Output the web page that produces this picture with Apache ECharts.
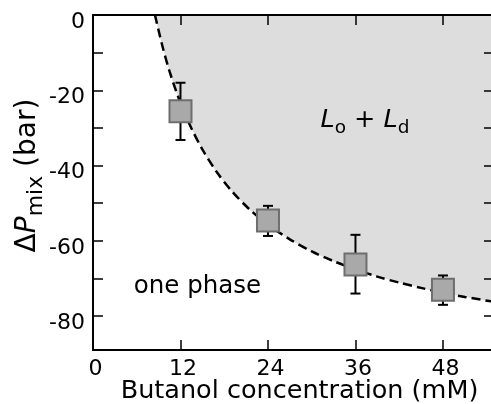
<!DOCTYPE html>
<html>
<head>
<meta charset="utf-8">
<style>html,body{margin:0;padding:0;background:#fff}#chart{width:491px;height:404px}</style>
<script src="https://cdn.jsdelivr.net/npm/echarts@6/dist/echarts.min.js"></script>
</head>
<body>
<div id="chart"></div>
<script>
// ---- data ----
const concentrations = [12, 24, 36, 48];
const pressure = [-25.6, -54.6, -66.3, -73.0];
const errLow = [-33.2, -58.7, -74.0, -77.0];
const errHigh = [-18.0, -50.7, -58.4, -69.2];
const boundaryX = [8.5, 9.5, 10.5, 12, 13.5, 15, 17, 19, 21.5, 24, 27, 30, 33, 36, 39, 42, 45, 48, 51, 55];
const boundaryY = [0, -8.1, -15.0, -23.4, -30.1, -35.7, -41.8, -46.7, -51.7, -55.7, -59.6, -62.8, -65.4, -67.6, -69.5, -71.1, -72.5, -73.8, -74.9, -76.2];
const xTickValues = [0, 12, 24, 36, 48];
const xInnerTicks = [12, 24, 36, 48];
const yLabelValues = [0, -20, -40, -60, -80];
const yTickValues = [0, -10, -20, -30, -40, -50, -60, -70, -80];

const FONT = 'DejaVu Sans';
const chart = echarts.init(document.getElementById('chart'), null, {renderer: 'canvas'});

const boundary = boundaryX.map((x, i) => [x, boundaryY[i]]);
const points = concentrations.map((x, i) => [x, pressure[i]]);
const errors = concentrations.map((x, i) => [x, errLow[i], errHigh[i]]);

const axisLine = {show: true, onZero: false, lineStyle: {color: '#000', width: 2}};
const tickStyle = {color: '#000', width: 1.5};

const option = {
  animation: false,
  backgroundColor: '#fff',
  grid: {left: 93, right: -3, top: 15, bottom: 54, containLabel: false, outerBoundsMode: 'none'},
  xAxis: [{
    type: 'value', min: 0, max: 55, position: 'bottom', z: 10,
    axisLine: axisLine,
    axisTick: {show: true, inside: true, length: 10, lineStyle: tickStyle, customValues: xInnerTicks},
    axisLabel: {show: true, customValues: xTickValues, margin: 8, padding: [0, 0, 0, 5], color: '#000', fontFamily: FONT, fontSize: 22},
    splitLine: {show: false},
    name: 'Butanol concentration (mM)', nameLocation: 'middle', nameGap: 28, nameMoveOverlap: false,
    nameTextStyle: {color: '#000', fontFamily: FONT, fontSize: 25.5, padding: [0, 0, 0, 12]}
  }, {
    type: 'value', min: 0, max: 55, position: 'top', z: 10,
    axisLine: axisLine,
    axisTick: {show: true, inside: true, length: 10, lineStyle: tickStyle, customValues: xInnerTicks},
    axisLabel: {show: false},
    splitLine: {show: false}
  }],
  yAxis: [{
    type: 'value', min: -89, max: 0, position: 'left', z: 10,
    axisLine: axisLine,
    axisTick: {show: true, inside: true, length: 10, lineStyle: tickStyle, customValues: yTickValues},
    axisLabel: {show: true, customValues: yLabelValues, margin: 8, verticalAlign: 'top', lineHeight: 14, color: '#000', fontFamily: FONT, fontSize: 22},
    splitLine: {show: false},
    name: '{a|Δ}{p|P}{s|mix}{a| (bar)}', nameLocation: 'middle', nameGap: 46, nameRotate: 90, nameMoveOverlap: false,
    nameTextStyle: {
      color: '#000', fontFamily: FONT, fontSize: 28, padding: [0, 0, 0, 14],
      rich: {
        a: {fontFamily: FONT, fontSize: 28, color: '#000', lineHeight: 39},
        p: {fontFamily: FONT, fontSize: 28, fontStyle: 'italic', color: '#000', lineHeight: 39},
        s: {fontFamily: FONT, fontSize: 22, color: '#000', lineHeight: 39, verticalAlign: 'bottom'}
      }
    }
  }, {
    type: 'value', min: -89, max: 0, position: 'right', z: 10,
    axisLine: axisLine,
    axisTick: {show: true, inside: true, length: 10, lineStyle: tickStyle, customValues: yTickValues},
    axisLabel: {show: false},
    splitLine: {show: false}
  }],
  series: [{
    name: 'phase boundary', type: 'line', data: boundary,
    xAxisIndex: 0, yAxisIndex: 0,
    smooth: 0.3, showSymbol: false, symbol: 'none',
    lineStyle: {color: '#000', width: 2.5, type: [9, 5]},
    areaStyle: {color: '#dddddd', opacity: 1, origin: 'end'},
    z: 1, silent: true
  }, {
    name: 'error', type: 'custom', data: errors,
    xAxisIndex: 0, yAxisIndex: 0, z: 3,
    renderItem: function (params, api) {
      const x = api.value(0);
      const lo = api.coord([x, api.value(1)]);
      const hi = api.coord([x, api.value(2)]);
      const cap = 5;
      const st = {stroke: '#000', lineWidth: 2};
      return {type: 'group', children: [
        {type: 'line', shape: {x1: lo[0], y1: lo[1], x2: hi[0], y2: hi[1]}, style: st},
        {type: 'line', shape: {x1: lo[0] - cap, y1: lo[1], x2: lo[0] + cap, y2: lo[1]}, style: st},
        {type: 'line', shape: {x1: hi[0] - cap, y1: hi[1], x2: hi[0] + cap, y2: hi[1]}, style: st}
      ]};
    }
  }, {
    name: 'ΔPmix', type: 'scatter', data: points,
    xAxisIndex: 0, yAxisIndex: 0, z: 4,
    symbol: 'rect', symbolSize: 22,
    itemStyle: {color: '#a9a9a9', borderColor: '#6e6e6e', borderWidth: 2, opacity: 1}
  }],
  graphic: [{
    type: 'text', x: 365, y: 120, z: 10,
    style: {
      text: '{i|L}{s|o}{n| + }{i|L}{s|d}', align: 'center', verticalAlign: 'middle',
      rich: {
        i: {fontFamily: FONT, fontSize: 25.5, fontStyle: 'italic', fill: '#000', lineHeight: 36},
        n: {fontFamily: FONT, fontSize: 25.5, fill: '#000', lineHeight: 36},
        s: {fontFamily: FONT, fontSize: 18.5, fill: '#000', lineHeight: 36, verticalAlign: 'bottom'}
      }
    }
  }, {
    type: 'text', x: 197.5, y: 287, z: 10,
    style: {text: 'one phase', fontFamily: FONT, fontSize: 24.5, fill: '#000', align: 'center', verticalAlign: 'middle'}
  }]
};
chart.setOption(option);
</script>
</body>
</html>
